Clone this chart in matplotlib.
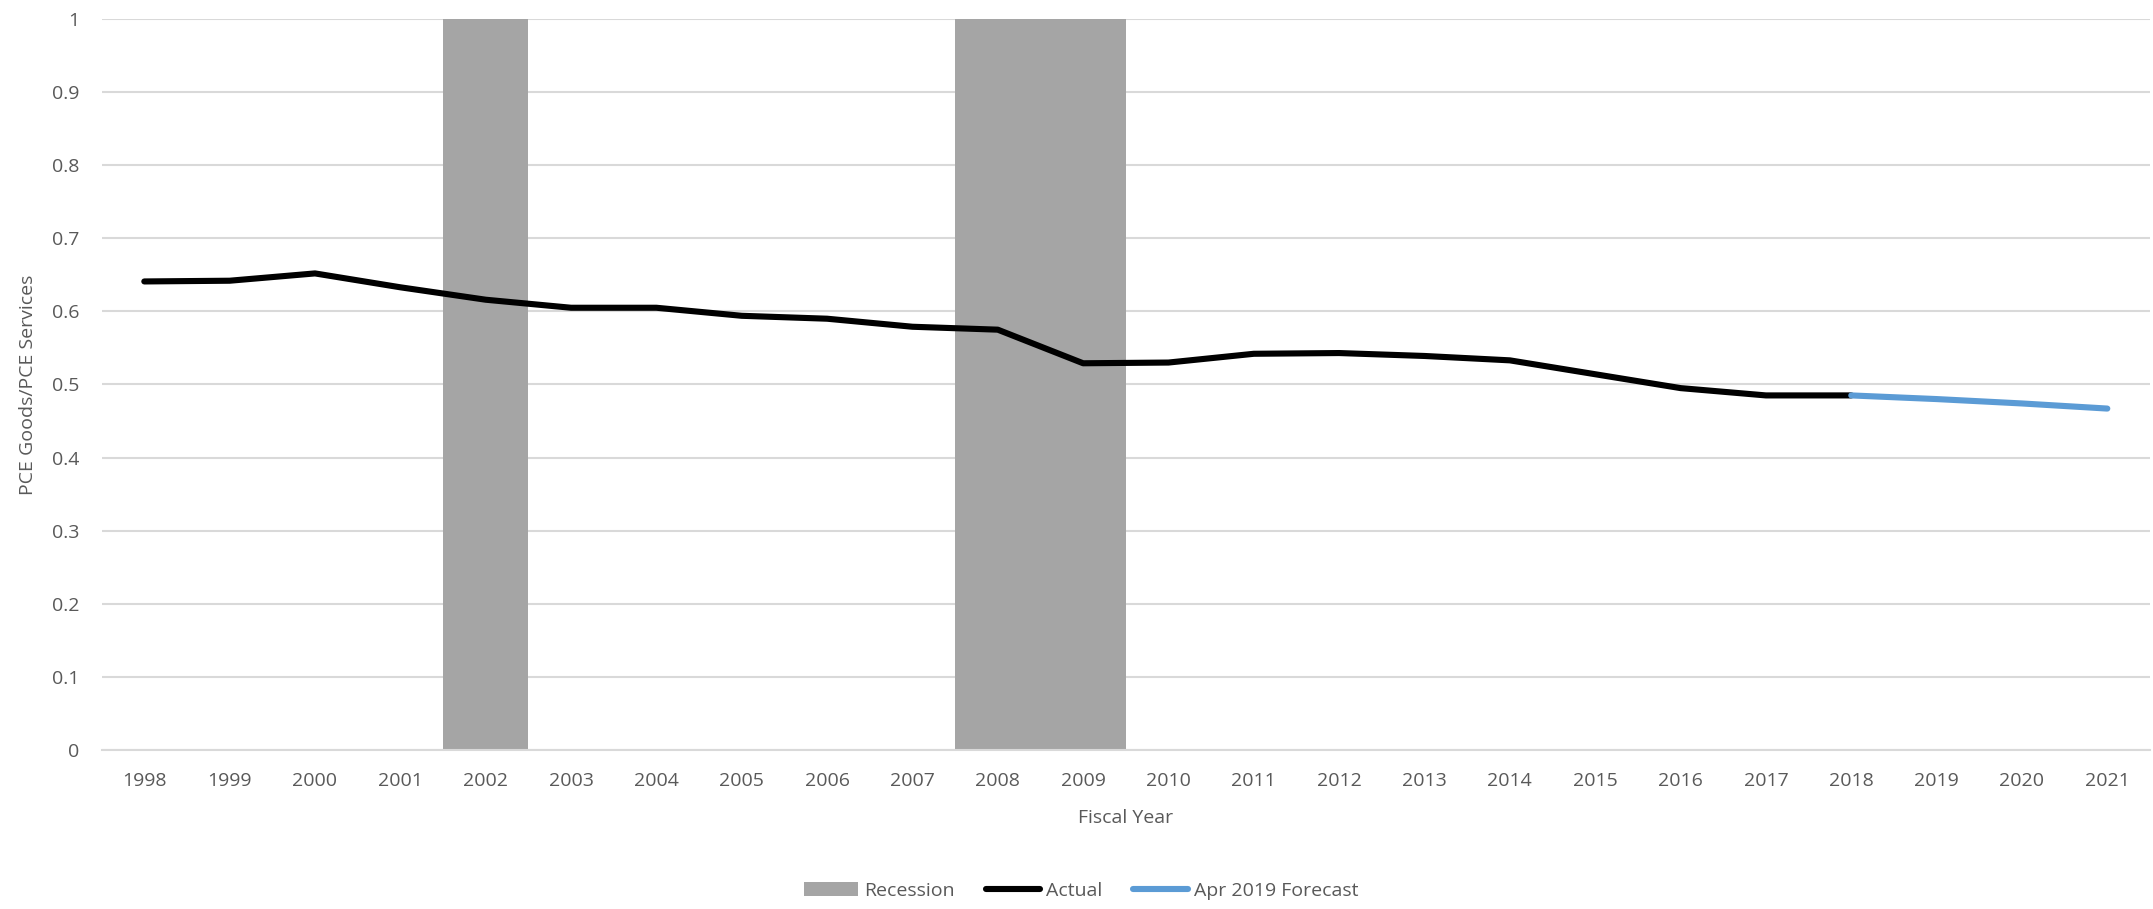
import matplotlib
matplotlib.use("Agg")
import matplotlib.pyplot as plt

plt.rcParams['font.family'] = ['Open Sans', 'DejaVu Sans']

years = [str(y) for y in range(1998, 2022)]

# ratio of PCE goods to PCE services, fiscal years 1998-2018
actual_years = years[:21]
actual = [0.641, 0.642, 0.652, 0.633, 0.616, 0.605, 0.605, 0.594, 0.590, 0.579,
          0.575, 0.529, 0.530, 0.542, 0.543, 0.539, 0.533, 0.514, 0.495, 0.485, 0.485]

forecast_years = years[20:]
forecast = [0.485, 0.480, 0.474, 0.467]

recession_years = ['2002', '2008', '2009']
recession = [1, 1, 1]

text_col = '#595959'
grid_col = '#d9d9d9'

fig = plt.figure(figsize=(21.53, 9.09), dpi=100)
ax = fig.add_axes([0.0472, 0.1752, 0.9514, 0.8037])

# categorical x axis for all years
ax.plot(years, [None] * len(years), alpha=0)

bars = ax.bar(recession_years, recession, width=1.0, color='#a5a5a5', label='Recession', zorder=2)
l_act, = ax.plot(actual_years, actual, color='black', lw=4.4, solid_capstyle='round',
                 solid_joinstyle='round', label='Actual', zorder=3)
l_fc, = ax.plot(forecast_years, forecast, color='#5b9bd5', lw=4.4, solid_capstyle='round',
                solid_joinstyle='round', label='Apr 2019 Forecast', zorder=3)

ax.set_xlim(-0.5, len(years) - 0.5)
ax.set_ylim(0, 1)
ax.set_yticks([i / 10 for i in range(11)])
ax.set_yticklabels(['0', '0.1', '0.2', '0.3', '0.4', '0.5', '0.6', '0.7', '0.8', '0.9', '1'])

ax.grid(axis='y', color=grid_col, lw=1.5, zorder=0)
ax.set_axisbelow(True)
for side in ['top', 'right', 'left']:
    ax.spines[side].set_visible(False)
ax.spines['bottom'].set_color(grid_col)
ax.spines['bottom'].set_linewidth(1.5)
ax.tick_params(axis='both', length=0, labelsize=14, colors=text_col)
ax.tick_params(axis='x', pad=16)
ax.tick_params(axis='y', pad=16)

ax.set_xlabel('Fiscal Year', fontsize=14, color=text_col, labelpad=14)
ax.set_ylabel('PCE Goods/PCE Services', fontsize=14, color=text_col, labelpad=11)

fig.legend([bars, l_act, l_fc], ['Recession', 'Actual', 'Apr 2019 Forecast'],
           loc='center', bbox_to_anchor=(0.502, 0.02), ncol=3, frameon=False,
           fontsize=14, labelcolor=text_col, handlelength=2.8, handletextpad=0.3,
           columnspacing=1.6)

fig.savefig('out.png', dpi=100)
